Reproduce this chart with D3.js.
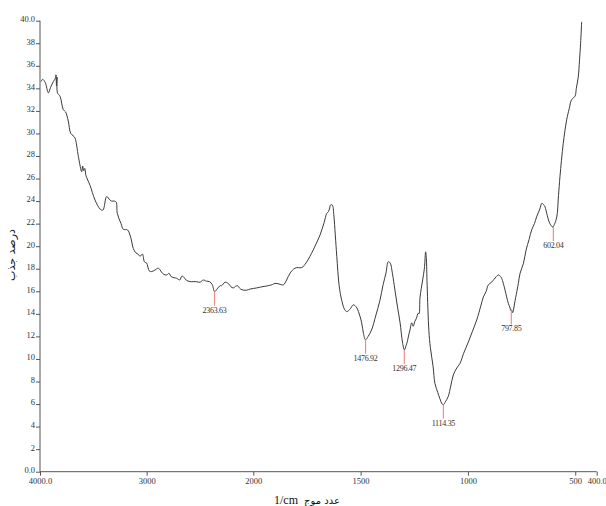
<!DOCTYPE html>
<html><head><meta charset="utf-8">
<script src="https://cdn.jsdelivr.net/npm/d3@7"></script>
<style>body{margin:0;background:#fff}svg{display:block}</style>
</head><body>
<script>
const wavenumbers = [3990,3975,3950,3922,3900,3875,3855,3850,3845,3840,3836,3812,3781,3760,3735,3712,3690,3672,3640,3609,3600,3590,3580,3570,3531,3484,3437,3410,3375,3345,3328,3300,3285,3275,3240,3219,3180,3150,3125,3100,3080,3062,3040,3020,3000,2975,2953,2920,2890,2860,2840,2812,2790,2770,2740,2719,2690,2670,2656,2630,2594,2562,2530,2500,2469,2440,2410,2385,2363,2340,2310,2297,2265,2234,2210,2187,2165,2150,2120,2090,2062,2030,2000,1984,1960,1930,1910,1899,1880,1860,1845,1829,1806,1790,1774,1755,1736,1710,1689,1670,1658,1650,1645,1640,1632,1625,1618,1611,1600,1588,1575,1565,1550,1534,1520,1510,1495,1487,1477,1465,1449,1430,1410,1395,1382,1371,1362,1352,1340,1328,1316,1305,1296,1288,1283,1275,1270,1262,1255,1248,1240,1232,1228,1223,1211,1203,1197,1194,1190,1182,1175,1162,1154,1140,1131,1120,1114,1105,1092,1080,1068,1052,1037,1020,998,980,959,940,928,915,905,890,878,858,848,843,835,827,812,805,800,797,792,780,770,765,757,741,729,715,703,690,680,665,656,648,641,630,618,605,598,586,578,571,556,540,528,517,501,495,486,480,475,470];
const absorbance = [34.6,34.8,34.5,33.6,34.1,34.6,34.9,35.2,34.2,35.0,33.6,33.3,32.1,31.9,31.1,30.0,29.8,29.6,27.95,26.6,27.1,26.7,26.9,26.3,25.4,24.1,23.3,23.2,24.4,24.1,24.0,24.0,23.9,22.9,22.0,21.5,21.45,20.8,19.8,19.4,19.3,19.1,19.3,18.6,18.5,17.8,17.75,17.9,18.05,17.7,17.5,17.45,17.6,17.3,17.2,17.16,17.0,17.35,17.3,17.0,16.86,16.86,16.85,16.8,17.0,16.9,16.85,16.6,15.97,16.2,16.5,16.5,16.8,16.7,16.4,16.3,16.45,16.5,16.2,16.1,16.1,16.2,16.25,16.3,16.4,16.5,16.6,16.7,16.65,16.57,17.0,17.6,18.05,18.1,18.1,18.5,19.1,20.1,21.0,22.1,22.9,23.07,23.3,23.66,23.66,22.8,21.0,19.1,16.5,15.2,14.4,14.2,14.4,14.8,14.6,14.2,13.2,12.28,11.7,12.0,12.57,13.8,15.2,16.6,17.6,18.63,18.5,17.6,16.1,14.6,13.2,11.5,10.8,11.2,11.5,12.2,12.57,13.2,12.9,13.3,13.6,14.05,14.0,15.5,17.0,18.0,19.5,19.0,16.5,12.5,11.0,9.3,7.85,7.0,6.5,6.0,5.95,6.2,6.66,7.6,8.58,9.2,9.6,10.5,11.5,12.4,13.46,14.7,15.5,16.0,16.57,16.8,17.07,17.45,17.3,17.16,16.7,16.1,14.94,14.6,14.3,14.35,14.1,15.2,16.2,16.7,17.6,18.5,19.67,20.6,21.45,22.0,22.6,23.3,23.8,23.7,23.5,22.7,22.0,21.7,21.9,22.6,24.5,26.2,29.1,31.2,32.2,33.0,33.3,34.0,35.0,36.5,38.0,39.9];

const peakPositions = [2363.63, 1476.92, 1296.47, 1114.35, 797.85, 602.04];
const peakValues = [15.97, 11.7, 10.8, 5.95, 14.3, 21.7];
const peakLabels = ["2363.63", "1476.92", "1296.47", "1114.35", "797.85", "602.04"];

const xTicks = [4000, 3000, 2000, 1500, 1000, 500, 400];
const xTickLabels = ["4000.0", "3000", "2000", "1500", "1000", "500", "400.0"];
const yTicks = [0,2,4,6,8,10,12,14,16,18,20,22,24,26,28,30,32,34,36,38,40];
const yTickLabels = ["0.0","2","4","6","8","10","12","14","16","18","20","22","24","26","28","30","32","34","36","38","40.0"];

const yTitle = "درصد جذب";
const xTitleUnit = "1/cm";
const xTitleText = "عدد موج";

const W = 606, H = 506;
const svg = d3.select("body").append("svg").attr("width", W).attr("height", H);

const x = d3.scaleLinear().domain([4000, 2000, 400]).range([40, 253.3, 596.7]);
const y = d3.scaleLinear().domain([0, 40]).range([471.7, 20.7]);

const font = "'Liberation Serif', 'DejaVu Serif', serif";
const axisColor = "#555";

// Y axis
const yAxis = d3.axisLeft(y).tickValues(yTicks).tickSize(4).tickFormat((d,i) => yTickLabels[i]);
const gy = svg.append("g").attr("transform", "translate(40,0)").call(yAxis);
gy.select(".domain").attr("stroke", axisColor).attr("d", `M0,${y(40)}V${y(0)}`);
gy.selectAll(".tick line").attr("stroke", axisColor);
gy.selectAll(".tick text").attr("font-family", font).attr("font-size", 8.5).attr("fill", "#333").attr("x", -5).attr("dy", "0.1em");

// X axis
const xAxis = d3.axisBottom(x).tickValues(xTicks).tickSize(4).tickFormat((d,i) => xTickLabels[i]);
const gx = svg.append("g").attr("transform", `translate(0,${y(0)})`).call(xAxis);
gx.select(".domain").attr("stroke", axisColor).attr("d", `M${x(4000)},0H${x(400)}`);
gx.selectAll(".tick line").attr("stroke", axisColor);
gx.selectAll(".tick text").attr("font-family", font).attr("font-size", 8.5).attr("fill", "#333").attr("y", 6);

// spectrum
const data = wavenumbers.map((w, i) => [w, absorbance[i]]);
svg.append("path").datum(data)
  .attr("fill", "none").attr("stroke", "#3a3a3a").attr("stroke-width", 1)
  .attr("d", d3.line().x(d => x(d[0])).y(d => y(d[1])).curve(d3.curveCatmullRom.alpha(0.5)));

// peak markers
const pk = svg.append("g");
peakPositions.forEach((p, i) => {
  const px = x(p), py = y(peakValues[i]);
  pk.append("line").attr("x1", px).attr("x2", px).attr("y1", py).attr("y2", py + 14)
    .attr("stroke", "#f28c8c").attr("stroke-width", 1.2);
  pk.append("text").attr("x", px).attr("y", py + 21).attr("text-anchor", "middle")
    .attr("font-family", font).attr("font-size", 8).attr("fill", "#333")
    .attr("letter-spacing", "-0.3").text(peakLabels[i]);
});

// titles
svg.append("text").attr("transform", "translate(15,255) rotate(-90)")
  .attr("text-anchor", "middle").attr("font-family", "'DejaVu Sans', sans-serif")
  .attr("font-size", 11).attr("fill", "#111").text(yTitle);
svg.append("text").attr("x", 286).attr("y", 504).attr("text-anchor", "middle")
  .attr("font-family", font).attr("font-size", 12).attr("fill", "#111").text(xTitleUnit);
svg.append("text").attr("x", 322).attr("y", 504).attr("text-anchor", "middle")
  .attr("font-family", "'DejaVu Sans', sans-serif").attr("font-size", 10).attr("fill", "#111")
  .attr("direction", "rtl").text(xTitleText);
</script>
</body></html>
